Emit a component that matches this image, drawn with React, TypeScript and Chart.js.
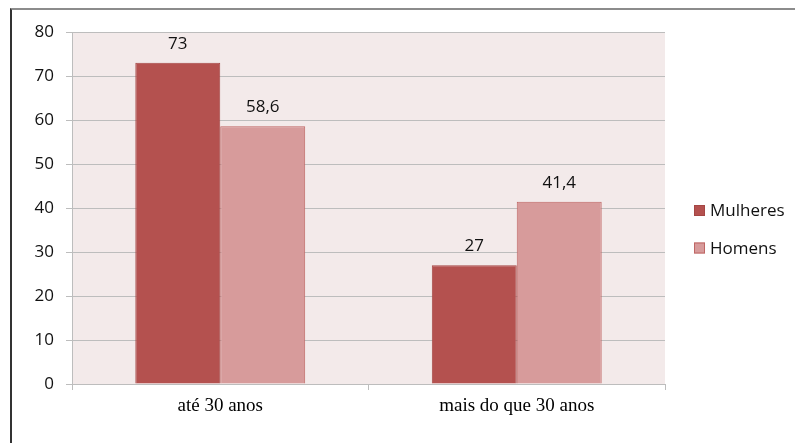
import React, { useEffect, useRef } from "react";
import { Chart, registerables } from "chart.js";

Chart.register(...registerables);

const categories = ["até 30 anos", "mais do que 30 anos"];
const seriesNames = ["Mulheres", "Homens"];
const mulheres = [73, 27];
const homens = [58.6, 41.4];
const yMin = 0;
const yMax = 80;
const yStep = 10;

const COLORS = {
  mulheres: "#b4514f",
  mulheresBorder: "#a54644",
  homens: "#d79b9b",
  homensBorder: "#bf6664",
  plotBg: "#f3eaea",
  grid: "#bdbdbd",
};

const fmt = (v: number) => String(v).replace(".", ",");

const plotBgPlugin = {
  id: "plotBg",
  beforeDraw(chart: any) {
    const { ctx, chartArea } = chart;
    ctx.save();
    ctx.fillStyle = COLORS.plotBg;
    ctx.fillRect(chartArea.left, chartArea.top, chartArea.right - chartArea.left, chartArea.bottom - chartArea.top);
    ctx.restore();
  },
};

const valueLabelPlugin = {
  id: "valueLabels",
  afterDatasetsDraw(chart: any) {
    const { ctx } = chart;
    ctx.save();
    ctx.font = "17px 'Open Sans'";
    ctx.fillStyle = "#111";
    ctx.textAlign = "center";
    ctx.textBaseline = "alphabetic";
    chart.data.datasets.forEach((ds: any, di: number) => {
      const meta = chart.getDatasetMeta(di);
      meta.data.forEach((bar: any, i: number) => {
        ctx.fillText(fmt(ds.data[i]), bar.x, bar.y - 14);
      });
    });
    ctx.restore();
  },
};

const legendPlugin = {
  id: "sideLegend",
  afterDraw(chart: any) {
    const { ctx, chartArea } = chart;
    const midY = (chartArea.top + chartArea.bottom) / 2;
    const boxX = chartArea.right + 29;
    const rows = [midY + 2.5, midY + 40];
    ctx.save();
    ctx.font = "17px 'Open Sans'";
    ctx.textBaseline = "middle";
    ctx.textAlign = "left";
    chart.data.datasets.forEach((ds: any, di: number) => {
      const cy = rows[di];
      ctx.fillStyle = ds.backgroundColor;
      ctx.fillRect(boxX, cy - 5.5, 11, 11);
      ctx.strokeStyle = ds.borderColor;
      ctx.lineWidth = 1;
      ctx.strokeRect(boxX + 0.5, cy - 5, 10, 10);
      ctx.fillStyle = "#111";
      ctx.fillText(ds.label, boxX + 16, cy + 1);
    });
    ctx.restore();
  },
};

export default function App() {
  const ref = useRef<HTMLCanvasElement | null>(null);

  useEffect(() => {
    if (!ref.current) return;
    const chart = new Chart(ref.current, {
      type: "bar",
      data: {
        labels: categories,
        datasets: [
          {
            label: seriesNames[0],
            data: mulheres,
            backgroundColor: COLORS.mulheres,
            borderColor: COLORS.mulheresBorder,
            borderWidth: 1,
            categoryPercentage: 0.573,
            barPercentage: 1,
          },
          {
            label: seriesNames[1],
            data: homens,
            backgroundColor: COLORS.homens,
            borderColor: COLORS.homensBorder,
            borderWidth: 1,
            categoryPercentage: 0.573,
            barPercentage: 1,
          },
        ],
      },
      options: {
        responsive: false,
        animation: false,
        layout: { padding: { left: 0, top: 32, right: 130, bottom: 0 } },
        plugins: {
          legend: { display: false },
          tooltip: { enabled: false },
        },
        scales: {
          x: {
            offset: true,
            grid: {
              display: true,
              drawOnChartArea: false,
              drawTicks: true,
              tickLength: 6,
              offset: true,
              color: COLORS.grid,
            },
            border: { display: true, color: COLORS.grid },
            ticks: {
              padding: 5,
              color: "#000",
              font: { family: "'Liberation Serif'", size: 19 },
              maxRotation: 0,
            },
            afterFit(scale: any) {
              scale.height = 59;
            },
          },
          y: {
            min: yMin,
            max: yMax,
            ticks: {
              stepSize: yStep,
              padding: 12,
              color: "#111",
              font: { family: "'Open Sans'", size: 17 },
            },
            grid: {
              color: COLORS.grid,
              drawTicks: true,
              tickLength: 6,
            },
            border: { display: true, color: COLORS.grid },
            afterFit(scale: any) {
              scale.width = 72;
            },
          },
        },
      },
      plugins: [plotBgPlugin, valueLabelPlugin, legendPlugin],
    });
    return () => chart.destroy();
  }, []);

  return (
    <div style={{ position: "absolute", left: 0, top: 0, width: 795, height: 443, background: "#fff" }}>
      <div
        style={{
          position: "absolute",
          left: 10,
          top: 8,
          width: 785,
          height: 435,
          boxSizing: "border-box",
          borderTop: "2px solid #8c8c8c",
          borderLeft: "2px solid #333",
        }}
      />
      <canvas ref={ref} width={795} height={443} style={{ position: "absolute", left: 0, top: 0 }} />
    </div>
  );
}
